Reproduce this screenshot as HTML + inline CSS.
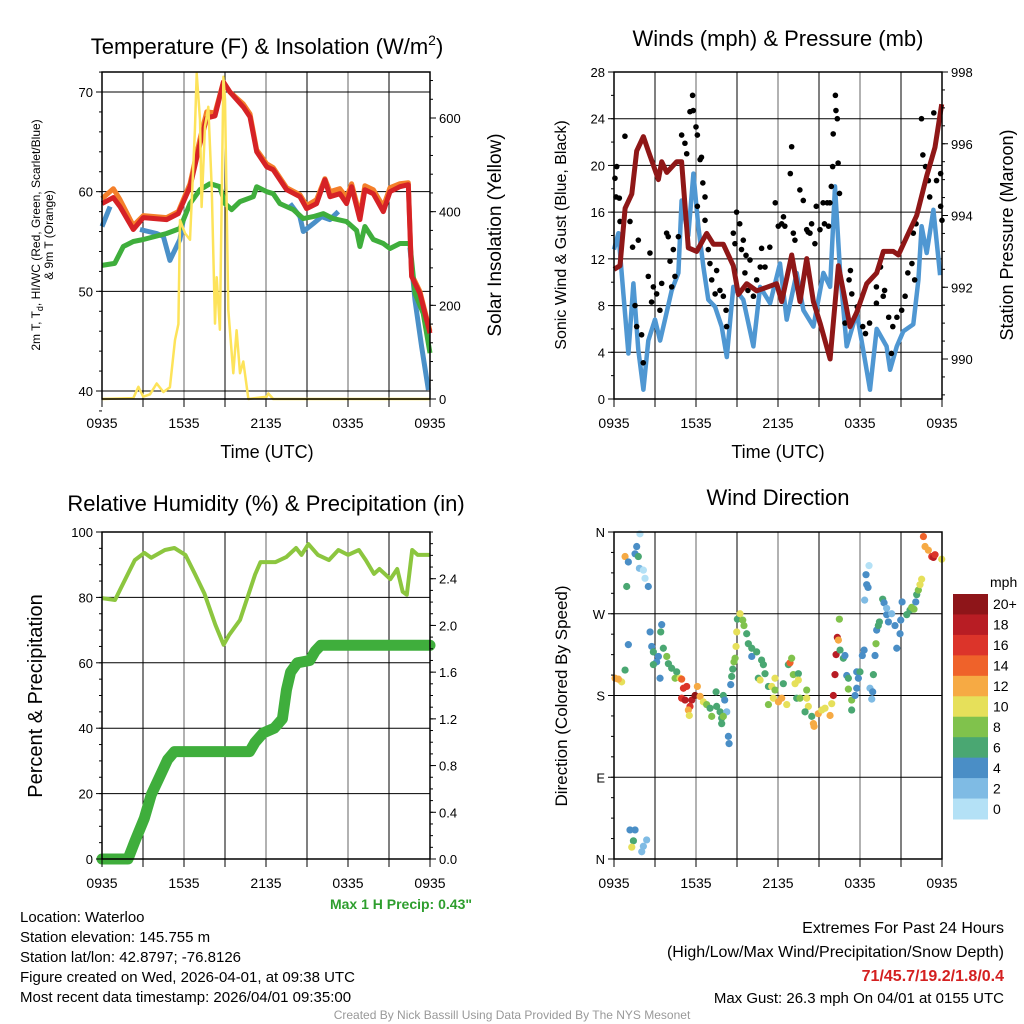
<!DOCTYPE html>
<html><head><meta charset="utf-8"><style>
body{margin:0;background:#fff;}
svg{display:block;font-family:"Liberation Sans",Arial,sans-serif;}
</style></head><body>
<svg id="c" width="1024" height="1024" viewBox="0 0 1024 1024"></svg>
<script>
// ---------- DATA ----------
const timeTicks=["0935","1535","2135","0335","0935"];
const tempHours=[0,0.83,1.32,2.29,3.02,4.73,5.58,6.44,7.17,7.66,8.27,8.88,9.36,10.34,10.83,11.32,12.05,12.53,13.51,14.48,14.97,15.7,16.31,16.68,17.41,17.9,18.26,18.87,19.24,19.85,20.58,21.07,21.8,22.41,22.65,23.26,24];
const tempRed=[58.8,59.4,58.5,56.2,57.4,57.2,57.8,60.5,64.8,67.4,67.6,71,70,68.5,67.5,64,62.5,62.2,60.2,59.5,58.3,58.8,61.2,59.5,59.8,58.8,60.5,57.2,60.2,59.8,58,60,60.5,60.7,51.5,49.8,45.8];
const tempOrange=[59.3,60.3,59.2,56.6,57.6,57.4,58,60.8,65.3,68,67.9,71,70,68.8,67.8,64.2,62.8,62.4,60.4,59.7,58.6,59.2,61.3,60,60.3,59.4,60.8,57.6,60.6,60.2,58.5,60.4,60.8,60.9,51.7,50,46];
const greenHours=[0,0.93,1.56,2.29,3.02,4.73,5.7,6.44,7.17,7.9,8.63,9,9.49,10.1,11.07,11.32,12.05,12.53,13.02,14,14.73,15.46,16.19,16.92,17.9,18.63,18.87,19.24,19.85,20.58,21.07,21.8,22.53,22.9,23.5,24];
const tempGreen=[52.6,52.8,54.5,55,55.2,55.8,56.3,58.8,60.2,60.8,60.5,58.8,58.2,59,59.5,60.5,60,59.8,58.8,58.2,57.3,57.5,57.8,57.3,57,56.1,54.5,56.5,55.2,54.8,54.3,54.8,54.8,49.8,47.8,43.8];
const blueHours=[0,0.59,null,2.78,4,4.49,4.97,5.7,5.95,null,13.76,14.48,14.73,15.46,16.07,16.68,17.29,null,22.53,22.9,23.39,23.88];
const tempBlue=[56.5,58.5,null,56.2,55.8,55.5,53.1,55.2,57.2,null,58.8,57.5,56,56.8,57.5,57.2,58,null,54.4,49.1,44.4,40.1];
const solarHours=[0,2.29,2.66,3.02,3.51,4,4.49,4.97,5.34,5.59,5.71,6.07,6.44,6.8,6.93,7.17,7.29,7.54,7.78,8.03,8.27,8.39,8.63,8.88,9,9.24,9.61,9.85,10.1,10.34,10.71,12.05,12.17,12.53,24];
const solarWm2=[0,2,26,5,10,33,15,25,126,160,382,354,340,574,695,596,410,582,624,453,161,260,148,688,640,190,55,147,55,80,0,5,12,0,0];
const presHours=[0,0.44,0.81,1.3,1.66,2.15,2.51,2.88,3.25,3.49,3.86,4.59,4.95,5.44,6.05,6.78,7.27,8,8.73,9.1,9.71,10.44,11.17,11.9,12.27,13,13.61,14.1,14.59,15.08,15.81,16.42,16.78,17.27,17.76,18.49,19.22,19.71,20.44,20.81,21.42,22.15,22.88,23.49,23.98];
const presMb=[992.5,992.6,994.2,994.6,995.8,996.2,995.8,995.4,995,995.5,995.2,995.5,995.5,993.1,993,993.5,993.2,993.2,992.6,991.8,992.1,991.9,992,992.1,991.6,992.9,991.6,992.8,991.6,991,990,992.6,991.9,990.9,991.3,992.1,992.4,993,993,992.9,993.4,994,995.1,995.9,997.1];
const windHours=[0,0.32,0.69,1.05,1.42,1.78,2.15,2.51,3,3.37,3.73,4.22,4.71,4.95,5.44,5.81,6.17,6.54,6.9,7.39,7.88,8.25,8.73,9.46,10.2,10.69,11.42,12.15,12.64,13.37,13.86,14.59,15.32,15.81,16.17,16.54,17.03,17.76,18.25,18.73,19.22,19.95,20.2,20.69,21.17,21.9,22.27,22.51,22.88,23.37,23.86];
const windMph=[12.8,14.2,9,3.9,9.9,4.2,0.8,5,6.8,5,6.8,9.3,10.8,17,14,19.3,14.8,11.3,8.5,7.9,6.2,3.6,9.6,8.5,4.5,9.6,8.2,11.6,6.8,10.8,7.6,6.2,10.8,9.6,18.2,11,4.5,7.4,4.1,0.8,6,4.5,2.5,4.5,5.8,6.4,10.2,14.8,12.5,16.2,10.6];
const gustHours=[0.15,0.2,0.07,0.39,0.8,0.44,1.17,1.36,1.78,1.54,1.66,2.02,2.14,2.63,2.51,2.88,2.75,3.12,3.36,3.49,3.85,3.97,4.1,4.34,4.22,4.46,4.71,4.95,5.19,5.32,5.56,5.75,5.8,6.0,6.1,6.3,6.4,6.5,6.66,6.1,6.66,6.9,7.02,7.15,7.51,7.4,7.75,8.0,8.2,8.24,8.73,8.97,8.85,9.2,9.46,9.33,9.66,9.58,9.8,9.95,10.2,10.44,10.7,10.8,11.05,11.4,11.8,12.02,12.27,12.4,12.5,13.0,12.9,13.12,13.24,13.6,13.85,14.1,14.2,14.34,14.46,14.7,14.8,15.07,15.3,15.4,15.6,15.7,15.8,15.9,16.04,16.2,16.24,16.34,16.0,16.4,16.5,17.3,17.2,17.4,16.9,17.8,18.2,18.4,18.7,19.2,19.5,19.7,19.8,19.2,20.1,20.4,20.3,20.7,21.05,21.3,21.5,21.8,22.0,21.9,22.1,22.5,22.6,22.8,23.0,23.1,23.4,23.6,23.9,23.9,24.0];
const gustMph=[17.3,19.9,18.9,17.2,22.5,15.2,15.2,13,13.6,8,6.2,5.5,3.1,12.5,10.5,9.6,8.3,9,7.6,9.9,14.2,13.9,11.8,12.8,9.6,10.5,13.9,22.6,21.9,21,24.6,26,24.7,23.3,22.6,20.5,20.7,18.5,17.3,16.5,15.3,12.8,11.6,10.2,11,9,9.3,8.8,7.6,6.2,14.2,16,13.3,15,13.6,12.8,12.3,10.8,9.3,11.9,8.8,10.2,11.3,12.9,11.3,13,16.8,14.8,15,15.6,14.8,21.6,19.3,14.2,13.6,17.9,17,14.5,14.3,14.2,15,13.3,16.5,14.5,16.8,15,16.8,14.8,16.8,18.2,22.7,26,24.7,24,19.9,20.2,17.6,11,10.2,9,6.5,7.9,6.2,5.6,6.5,9.6,11.3,8.8,9.3,8.2,7,6.2,3.9,7,7.6,8.8,10.8,11.6,10.2,14.2,15,24,20.9,19.9,18.7,17.3,24.5,18.7,19.3,16.5,15.3];
const rhHours=[0,0.95,1.3,2.4,3.1,3.6,4.6,5.3,6.1,6.8,7.5,8.3,8.9,9.3,10.1,11.2,11.6,12.7,13.5,14.2,14.6,15.1,15.8,16.6,17.3,18.0,18.8,19.3,19.9,20.3,21.1,21.6,22.0,22.3,22.7,23.1,24];
const rhPct=[79.8,79.2,82.2,91.4,93.6,92.1,94.5,95.1,93.0,87.2,81.1,71.6,65.5,68.5,73.1,87.0,90.8,90.8,92.4,95.1,93.0,96.3,93.0,91.4,94.5,93,94.5,91.4,87.2,88.7,85.6,88.7,81.7,80.8,94.5,93,93];
const precipHours=[0,1.9,2.4,3.1,3.6,4.2,4.8,5.3,10.8,11.2,11.8,12.6,13.2,13.5,13.8,14.3,15.2,15.6,16.0,24];
const precipIn=[0,0,0.15,0.35,0.55,0.7,0.85,0.92,0.92,1.0,1.08,1.12,1.2,1.45,1.6,1.68,1.7,1.78,1.83,1.83];
const dirHours=[
1.9,1.66,1.54,1.78,0.81,1.05,1.86,2.15,2.27,2.51,
0.93,1.05,2.64,3.49,3.42,0.81,0.08,0.56,0.32,2.76,
2.88,3.25,3.61,3.12,2.88,3.37,3.86,3.98,4.22,4.59,
4.47,4.83,4.95,5.08,5.32,4.95,5.2,5.69,5.93,6.1,
5.56,5.44,5.51,6.3,6.54,6.78,7.03,7.15,7.47,7.51,
7.76,7.88,7.88,8.0,8.1,8.25,8.0,8.37,8.42,8.54,
8.61,8.69,8.78,8.86,8.93,8.98,9.03,9.22,9.42,9.51,
9.71,9.83,10.08,10.08,10.44,10.8,10.93,11.05,10.56,10.69,
11.3,11.54,11.78,11.78,11.66,11.3,12.03,12.27,12.64,12.39,
12.76,12.88,13.0,13.12,13.25,13.49,13.49,13.37,13.61,14.1,
14.1,14.22,13.98,14.47,14.59,14.64,14.95,15.2,15.44,15.81,
15.93,16.05,16.17,16.25,16.34,16.42,16.54,16.49,16.78,16.9,
17.03,17.15,17.15,17.39,17.39,17.64,17.76,17.76,18.0,17.88,
18.17,18.3,18.73,18.86,18.93,18.98,19.1,19.17,18.44,18.49,
18.59,18.34,18.66,19.22,19.34,19.42,19.66,19.76,19.95,20.08,
19.95,20.32,20.56,20.69,20.93,20.98,21.08,21.42,21.66,21.78,
21.95,22.08,22.15,22.27,22.39,22.51,22.64,22.76,23.0,23.25,
23.37,23.49,23.98,1.17,1.54,1.42,1.3,2.03,2.39,2.15];
const dirDeg=[
358,344,336,333,333,327,320,318,309,300,
300,236,250,258,250,208,199,195,198,234,
228,223,232,217,214,199,223,215,210,206,
199,199,198,188,190,177,175,175,180,190,
168,164,158,179,173,170,166,157,184,168,
162,155,149,180,175,162,157,135,127,192,
201,209,217,221,234,250,264,270,263,257,
248,237,232,223,228,219,214,204,199,197,
190,190,199,186,177,170,173,177,170,193,
214,216,221,203,193,204,197,177,177,186,
177,168,162,157,149,146,160,164,166,158,
171,180,203,225,244,241,230,264,221,224,
202,199,187,175,164,180,188,206,206,199,
224,230,188,176,184,203,224,237,313,302,
299,285,323,252,257,261,286,282,269,261,
276,270,257,232,248,263,283,269,274,277,
275,283,291,296,302,308,355,344,340,333,
332,335,330,32,32,20,13,8,21,14];
const dirSpeed=[
1,4,4,6,12,4,2,1,1,4,
6,4,4,4,6,6,12,10,12,4,
6,4,6,4,6,4,8,6,6,6,
8,10,14,16,16,16,18,18,20,12,
16,12,10,12,10,8,6,8,6,6,
6,6,6,6,4,2,8,4,4,4,
6,6,8,8,10,10,6,10,8,8,
6,6,6,4,6,6,6,6,6,10,
6,10,10,8,10,8,12,12,10,6,
6,14,8,8,10,6,10,6,8,8,
10,10,6,6,12,12,12,10,10,12,
10,18,18,18,18,12,6,8,6,4,
4,6,8,8,6,4,4,4,6,4,
4,4,2,2,4,6,4,8,4,4,
4,2,1,4,6,6,6,4,4,4,
2,2,4,4,4,4,4,6,6,8,
8,4,6,8,10,10,14,12,12,16,
18,16,10,4,4,6,10,2,2,2];
const speedLabels=["20+","18","16","14","12","10","8","6","4","2","0"];
const speedColors=["#b4e1f6","#7fbbe4","#4a8ec6","#4aa772","#80c24c","#e6e05a","#f6aa44","#ef622a","#dc342a","#b81d24","#8e1519"];

// ---------- helpers ----------
const NS="http://www.w3.org/2000/svg", svg=document.getElementById('c');
function el(tag,attrs,parent){const e=document.createElementNS(NS,tag);for(const k in attrs)e.setAttribute(k,attrs[k]);(parent||svg).appendChild(e);return e;}
function txt(s,x,y,size,anchor,parent,extra){const t=el('text',Object.assign({x:x,y:y,'font-size':size,'text-anchor':anchor||'middle',fill:'#000'},extra||{}),parent);t.textContent=s;return t;}
function lin(d0,d1,p0,p1){return v=>p0+(v-d0)/(d1-d0)*(p1-p0);}
function pathFrom(xs,ys,sx,sy){let d='',pen=false;for(let i=0;i<xs.length;i++){if(xs[i]===null||ys[i]===null||xs[i]===undefined||ys[i]===undefined){pen=false;continue;}d+=(pen?'L':'M')+sx(xs[i]).toFixed(1)+','+sy(ys[i]).toFixed(1);pen=true;}return d;}
function frame(g,L,T,R,B,hLines,sy){
  for(let i=1;i<8;i++){const x=L+(R-L)*i/8;const v=el('line',{x1:x,y1:T,x2:x,y2:B,stroke:(i%2==0)?'#666':'#000','stroke-width':1},g);}
  hLines.forEach(h=>{const y=sy(h);const l=el('line',{x1:L,y1:y,x2:R,y2:y,stroke:'#000','stroke-width':1},g);});
}
function border(g,L,T,R,B){const r=el('rect',{x:L,y:T,width:R-L,height:B-T,fill:'none',stroke:'#000','stroke-width':1.5},g);
  timeTicks.forEach((t,i)=>{const x=L+(R-L)*i/4;const lb=txt(t,x,B+29,14,'middle',g);});
  for(let i=0;i<=8;i++){const x=L+(R-L)*i/8;el('line',{x1:x,y1:B,x2:x,y2:B+8,stroke:'#000'},g);}
}
function yTicks(g,x,vals,sy,labels,side,minor){
  vals.forEach((v,i)=>{const y=sy(v);el('line',{x1:x,y1:y,x2:x+(side<0?-6:6),y2:y,stroke:'#000'},g);
    const lb=txt(labels[i],x+(side<0?-9:9),y+5,13,side<0?'end':'start',g);});
  (minor||[]).forEach(v=>{const y=sy(v);el('line',{x1:x,y1:y,x2:x+(side<0?-3:3),y2:y,stroke:'#000'},g);});
}
function range(a,b,s){const r=[];for(let v=a;v<=b+1e-9;v+=s)r.push(+v.toFixed(3));return r;}

// ---------- Panel 1 ----------
(function(){
 const g=el('g',{});
 const L=102,R=430,T=72,B=399;
 const sx=lin(0,24,L,R), sy=lin(40,70,391,92), sy2=lin(0,600,399,118);
 frame(g,L,T,R,B,[40,50,60,70],sy);
 let p=el('path',{d:pathFrom(tempHours,tempOrange,sx,sy),fill:'none',stroke:'#f47f2a','stroke-width':5,'stroke-linejoin':'round'},g);
 p=el('path',{d:pathFrom(blueHours,tempBlue,sx,sy),fill:'none',stroke:'#4a90c8','stroke-width':5,'stroke-linejoin':'round'},g);
 p=el('path',{d:pathFrom(greenHours,tempGreen,sx,sy),fill:'none',stroke:'#3fae3c','stroke-width':5,'stroke-linejoin':'round'},g);
 p=el('path',{d:pathFrom(tempHours,tempRed,sx,sy),fill:'none',stroke:'#d62226','stroke-width':5,'stroke-linejoin':'round'},g);
 p=el('path',{d:pathFrom(solarHours,solarWm2,sx,sy2),fill:'none',stroke:'#fde35a','stroke-width':2.5,'stroke-linejoin':'round'},g);
 border(g,L,T,R,B);
 yTicks(g,L,[40,50,60,70],sy,["40","50","60","70"],-1,range(38,72,2));
 yTicks(g,R,[0,200,400,600],sy2,["0","200","400","600"],1,range(0,680,40));
 let t=el('text',{x:267,y:54,'font-size':22,'text-anchor':'middle'},g);t.innerHTML='Temperature (F) &amp; Insolation (W/m<tspan dy="-9" font-size="14">2</tspan><tspan dy="9">)</tspan>';
 t=txt('Time (UTC)',267,458,18,'middle',g);
 const yl=el('g',{transform:'translate(40,235) rotate(-90)'},g);
 const yt=el('text',{x:0,y:0,'font-size':12,'text-anchor':'middle'},yl);yt.innerHTML='2m T, T<tspan dy="3" font-size="9">d</tspan><tspan dy="-3">, HI/WC (Red, Green, Scarlet/Blue)</tspan>';
 txt('& 9m T (Orange)',0,13,12,'middle',yl);
 t=txt('Solar Insolation (Yellow)',0,0,19,'middle',g,{transform:'translate(501,235) rotate(-90)'});
})();

// ---------- Panel 2 ----------
(function(){
 const g=el('g',{});
 const L=614,R=942,T=72,B=399;
 const sx=lin(0,24,L,R), sy=lin(0,28,399,72), sy2=lin(990,998,359,72);
 frame(g,L,T,R,B,[4,8,12,16,20,24],sy);
 let p=el('path',{d:pathFrom(windHours,windMph,sx,sy),fill:'none',stroke:'#4f97d2','stroke-width':4.5,'stroke-linejoin':'round'},g);
 gustHours.forEach((h,i)=>{const c=el('circle',{cx:sx(h),cy:sy(gustMph[i]),r:2.8,fill:'#000'},g);});
 p=el('path',{d:pathFrom(presHours,presMb,sx,sy2),fill:'none',stroke:'#8f1717','stroke-width':5,'stroke-linejoin':'round'},g);
 border(g,L,T,R,B);
 yTicks(g,L,[0,4,8,12,16,20,24,28],sy,["0","4","8","12","16","20","24","28"],-1,range(0,28,2));
 yTicks(g,R,[990,992,994,996,998],sy2,["990","992","994","996","998"],1,range(989,998,0.5));
 let t=txt('Winds (mph) & Pressure (mb)',778,46,22,'middle',g);
 t=txt('Time (UTC)',778,458,18,'middle',g);
 t=txt('Sonic Wind & Gust (Blue, Black)',0,0,16,'middle',g,{transform:'translate(566,235) rotate(-90)'});
 t=txt('Station Pressure (Maroon)',0,0,18,'middle',g,{transform:'translate(1013,235) rotate(-90)'});
})();

// ---------- Panel 3 ----------
(function(){
 const g=el('g',{});
 const L=102,R=430,T=532,B=859;
 const sx=lin(0,24,L,R), sy=lin(0,100,859,532), sy2=lin(0,2.8,859,532);
 frame(g,L,T,R,B,[20,40,60,80],sy);
 let p=el('path',{d:pathFrom(rhHours,rhPct,sx,sy),fill:'none',stroke:'#8cc63f','stroke-width':4,'stroke-linejoin':'round'},g);
 p=el('path',{d:pathFrom(precipHours,precipIn,sx,sy2),fill:'none',stroke:'#3fae3c','stroke-width':11,'stroke-linejoin':'round','stroke-linecap':'round'},g);
 border(g,L,T,R,B);
 yTicks(g,L,[0,20,40,60,80,100],sy,["0","20","40","60","80","100"],-1,range(0,100,5));
 yTicks(g,R,[0,0.4,0.8,1.2,1.6,2.0,2.4],sy2,["0.0","0.4","0.8","1.2","1.6","2.0","2.4"],1,range(0,2.8,0.1));
 let t=txt('Relative Humidity (%) & Precipitation (in)',266,511,22,'middle',g);
 t=txt('Percent & Precipitation',0,0,20,'middle',g,{transform:'translate(42,696) rotate(-90)'});
 t=txt('Max 1 H Precip: 0.43"',472,909,14,'end',g,{fill:'#2e9e2e','font-weight':'bold'});
})();

// ---------- Panel 4 ----------
(function(){
 const g=el('g',{});
 const L=614,R=942,T=532,B=859;
 const sx=lin(0,24,L,R), sy=lin(0,360,859,532);
 frame(g,L,T,R,B,[90,180,270],sy);
 const n=Math.min(dirHours.length,dirDeg.length,dirSpeed.length);
 for(let i=0;i<n;i++){const b=Math.min(10,Math.floor(dirSpeed[i]/2));const c=el('circle',{cx:sx(dirHours[i]),cy:sy(dirDeg[i]),r:3.6,fill:speedColors[b]},g);}
 border(g,L,T,R,B);
 yTicks(g,L,[0,90,180,270,360],sy,["N","E","S","W","N"],-1,range(0,360,22.5));
 let t=txt('Wind Direction',778,505,22,'middle',g);
 t=txt('Direction (Colored By Speed)',0,0,17,'middle',g,{transform:'translate(567,696) rotate(-90)'});
 const cb=el('g',{},g);
 const nb=speedLabels.length, bh=225/nb;
 speedLabels.forEach((lab,i)=>{const y=594+i*bh;el('rect',{x:953,y:y,width:35,height:bh+0.5,fill:speedColors[nb-1-i]},cb);
   const tl=txt(lab,993,y+bh/2+5,14,'start',cb);});
 txt('mph',990,587,14,'start',cb);
})();

// ---------- footer ----------
(function(){
 const g=el('g',{});
 ["Location: Waterloo","Station elevation: 145.755 m","Station lat/lon: 42.8797; -76.8126","Figure created on Wed, 2026-04-01, at 09:38 UTC","Most recent data timestamp: 2026/04/01 09:35:00"].forEach((s,i)=>txt(s,20,922+i*20,15,'start',g));
 const e=el('g',{});
 txt('Extremes For Past 24 Hours',1004,933,16,'end',e);
 txt('(High/Low/Max Wind/Precipitation/Snow Depth)',1004,957,16,'end',e);
 txt('71/45.7/19.2/1.8/0.4',1004,981,16,'end',e,{fill:'#d42020','font-weight':'bold'});
 txt('Max Gust: 26.3 mph On 04/01 at 0155 UTC',1004,1003,15,'end',e);
 const c=txt('Created By Nick Bassill Using Data Provided By The NYS Mesonet',512,1019,12,'middle');c.setAttribute('fill','#999');
})();
</script>
</body></html>
